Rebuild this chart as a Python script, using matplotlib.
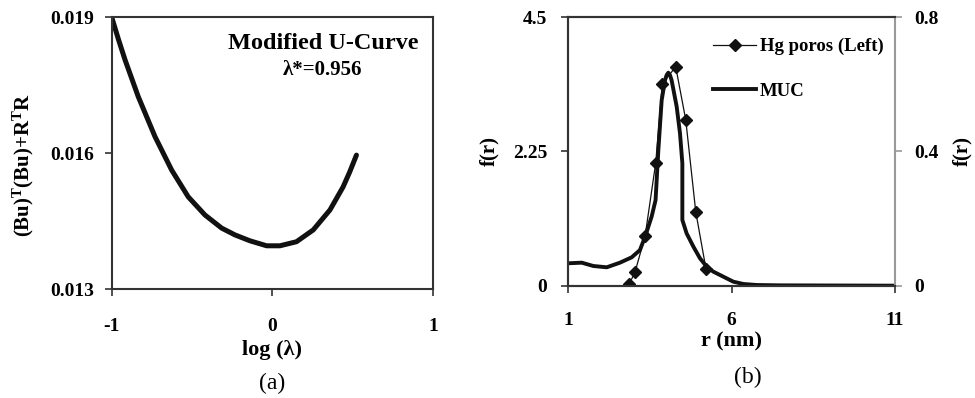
import matplotlib
matplotlib.use('Agg')
import matplotlib.pyplot as plt

plt.rcParams['font.family'] = ['Liberation Serif', 'DejaVu Serif']
plt.rcParams['font.weight'] = 'bold'
plt.rcParams['mathtext.fontset'] = 'custom'
plt.rcParams['mathtext.rm'] = 'Liberation Serif'
plt.rcParams['mathtext.bf'] = 'Liberation Serif:bold'

# (a) modified U-curve
log_lam = [-1.0, -0.958, -0.917, -0.835, -0.731, -0.627, -0.524, -0.420, -0.316, -0.233,
           -0.140, -0.036, 0.047, 0.150, 0.254, 0.358, 0.440, 0.480, 0.523]
u_curve = [0.01900, 0.01851, 0.01806, 0.01725, 0.01637, 0.01563, 0.01504, 0.01464, 0.01435,
           0.01420, 0.01407, 0.01396, 0.01396, 0.01405, 0.01431, 0.01475, 0.01526, 0.01558, 0.01596]

# (b) pore size distribution
hg_r = [2.858, 3.04, 3.35, 3.675, 3.877, 4.287, 4.594, 4.90, 5.215]
hg_f = [0.023, 0.225, 0.833, 2.06, 3.39, 3.67, 2.78, 1.24, 0.275]

muc_r = [1.0, 1.41, 1.765, 2.175, 2.58, 2.94, 3.19, 3.35, 3.55, 3.67, 3.755, 3.857, 3.96,
         4.01, 4.06, 4.11, 4.16, 4.316, 4.418, 4.49, 4.49, 4.62, 4.83, 5.03, 5.235, 5.44,
         5.745, 6.05, 6.36, 6.77, 7.48, 11.0]
muc_f = [0.0668, 0.0686, 0.0587, 0.0548, 0.0686, 0.0846, 0.106, 0.146, 0.206, 0.255, 0.404,
         0.553, 0.613, 0.628, 0.635, 0.628, 0.613, 0.534, 0.454, 0.365, 0.196, 0.156, 0.116,
         0.0815, 0.0566, 0.0417, 0.0268, 0.0119, 0.005, 0.002, 0.001, 0.0]

fig = plt.figure(figsize=(9.75, 3.98), dpi=100)
spine_c = '#333333'

# ---- panel (a)
ax1 = fig.add_axes([0.1146, 0.2731, 0.3296, 0.6834])
ax1.plot(log_lam, u_curve, color='#111111', lw=3.6, solid_capstyle='round',
         solid_joinstyle='round')
ax1.set_xlim(-1, 1)
ax1.set_ylim(0.013, 0.019)
ax1.set_xticks([-1, 0, 1])
ax1.set_xticklabels(['-1', '0', '1'])
ax1.set_yticks([0.013, 0.016, 0.019])
ax1.set_yticklabels(['0.013', '0.016', '0.019'])
ax1.tick_params(labelsize=14, direction='out', length=5, width=1.2, color=spine_c)
ax1.tick_params(axis='x', pad=16)
ax1.tick_params(axis='y', pad=8)
for s in ax1.spines.values():
    s.set_color(spine_c)
    s.set_linewidth(1.5)
ax1.set_xlabel('log (λ)', fontsize=16, fontweight='bold', labelpad=3)
ax1.set_ylabel(r'$\mathbf{(Bu)^{T}(Bu){+}R^{T}R}$', fontsize=15)
ax1.yaxis.set_label_coords(-0.235, 0.457)
ax1.text(0.658, 0.905, 'Modified U-Curve', transform=ax1.transAxes, ha='center', va='center',
         fontsize=17.5, fontweight='bold')
ax1.text(0.655, 0.806, 'λ*=0.956', transform=ax1.transAxes, ha='center', va='center',
         fontsize=15, fontweight='bold')
fig.text(272 / 975, 1 - 383 / 398, '(a)', ha='center', va='center', fontsize=17, fontweight='normal')

# ---- panel (b)
ax2 = fig.add_axes([0.5829, 0.2822, 0.3351, 0.6743])
ax3 = ax2.twinx()
h1, = ax2.plot(hg_r, hg_f, color='#111111', lw=0.9, marker='D', markersize=6,
               label='Hg poros (Left)')
h2, = ax3.plot(muc_r, muc_f, color='#111111', lw=2.8, label='MUC', solid_joinstyle='round')
ax2.set_xlim(1, 11)
ax2.set_ylim(0, 4.5)
ax3.set_ylim(0, 0.8)
ax2.set_xticks([1, 6, 11])
ax2.set_yticks([0, 2.25, 4.5])
ax2.set_yticklabels(['0', '2.25', '4.5'])
ax3.set_yticks([0, 0.4, 0.8])
ax3.set_yticklabels(['0', '0.4', '0.8'])
ax2.tick_params(labelsize=14, direction='out', length=5, width=1.2, color=spine_c)
ax2.tick_params(axis='x', pad=14)
ax2.tick_params(axis='y', pad=10)
ax3.tick_params(labelsize=14, direction='out', length=5, width=1.2, color='#999999', pad=9)
for s in ax2.spines.values():
    s.set_color(spine_c)
    s.set_linewidth(1.5)
for s in ax3.spines.values():
    s.set_color(spine_c)
    s.set_linewidth(1.5)
ax3.spines['right'].set_color('#999999')
ax2.spines['right'].set_visible(False)
ax2.set_xlabel('r (nm)', fontsize=16, fontweight='bold', labelpad=2)
ax2.set_ylabel('f(r)', fontsize=15, fontweight='bold', labelpad=10)
ax3.set_ylabel('f(r)', fontsize=15, fontweight='bold', rotation=90, labelpad=10)
ax3.legend([h1, h2], ['Hg poros (Left)', 'MUC'], loc='upper right', frameon=False,
           prop={'size': 13.5, 'weight': 'bold'}, handlelength=2.3, handletextpad=0.2,
           labelspacing=1.45, borderaxespad=0.2, bbox_to_anchor=(1.0, 0.965))
fig.text(748 / 975, 1 - 377 / 398, '(b)', ha='center', va='center', fontsize=17, fontweight='normal')

fig.savefig('out.png', dpi=100)
